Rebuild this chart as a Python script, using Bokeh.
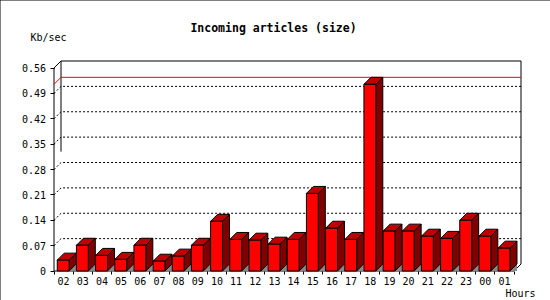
from bokeh.plotting import figure
from bokeh.models import Range1d, FixedTicker, Label, LinearAxis, InlineStyleSheet
from bokeh.embed import file_html
from bokeh.resources import INLINE

# ---- data ----
hours = ["02", "03", "04", "05", "06", "07", "08", "09", "10", "11", "12", "13",
         "14", "15", "16", "17", "18", "19", "20", "21", "22", "23", "00", "01"]
size_kbs = [0.030, 0.071, 0.043, 0.032, 0.071, 0.027, 0.041, 0.071, 0.137, 0.087,
            0.085, 0.074, 0.087, 0.214, 0.118, 0.087, 0.515, 0.110, 0.110, 0.096,
            0.090, 0.140, 0.096, 0.063]
y_ticks = [0, 0.07, 0.14, 0.21, 0.28, 0.35, 0.42, 0.49, 0.56]
y_tick_labels = ["0", "0.07", "0.14", "0.21", "0.28", "0.35", "0.42", "0.49", "0.56"]
title_text = "Incoming articles (size)"
y_label = "Kb/sec"
x_label = "Hours"

n = len(hours)
y_max_axis = y_ticks[-1]
W, H = 550, 300
OX, OY = 53.5, 270.5        # pixel position of the data origin
PX = n / 460.0              # x data units per pixel
PY = y_max_axis / 203.0     # y data units per pixel
DX, DY = 7 * PX, 7 * PY     # 3D depth

FONT = "DejaVu Sans Mono"

p = figure(width=W, height=H, output_backend="svg", toolbar_location=None,
           x_axis_type=None, y_axis_type=None, title_location=None,
           x_range=Range1d(-OX * PX, (W - OX) * PX),
           y_range=Range1d(-(H - OY) * PY, OY * PY),
           min_border=0, min_border_left=0, min_border_right=0,
           min_border_top=0, min_border_bottom=0,
           background_fill_color="white", border_fill_color="white")
p.outline_line_color = None
p.stylesheets = [InlineStyleSheet(css=":host { outline: 1px solid #000; outline-offset: -1px; }")]

# ---- axes (ticks + labels only), pinned at the data origin ----
ya = LinearAxis(fixed_location=0, ticker=FixedTicker(ticks=y_ticks, minor_ticks=[]))
ya.major_label_overrides = {t: l for t, l in zip(y_ticks, y_tick_labels)}
ya.bounds = (0, y_max_axis)
ya.axis_line_color = None
ya.major_tick_out = 4
ya.major_tick_in = 0
ya.major_tick_line_color = "black"
ya.major_label_standoff = 4
ya.major_label_text_font = FONT
ya.major_label_text_font_size = "10px"
ya.major_label_text_color = "black"
p.add_layout(ya, "left")

centers = [i + 0.5 for i in range(n)]
xa = LinearAxis(fixed_location=0,
                ticker=FixedTicker(ticks=centers, minor_ticks=list(range(n + 1))))
xa.major_label_overrides = {c: h for c, h in zip(centers, hours)}
xa.bounds = (0, n)
xa.axis_line_color = None
xa.major_tick_out = 0
xa.major_tick_in = 0
xa.minor_tick_out = 3
xa.minor_tick_in = 0
xa.minor_tick_line_color = "black"
xa.major_label_standoff = 3
xa.major_label_text_font = FONT
xa.major_label_text_font_size = "10px"
xa.major_label_text_color = "black"
p.add_layout(xa, "below")

# ---- dotted back grid lines ----
for t in y_ticks[1:-1]:
    p.line([0, DX, n + DX], [t, t + DY, t + DY], line_color="black", line_width=1,
           line_dash="2 2")

# ---- frame / axis lines ----
top = y_max_axis
p.line([0, 0, DX, n + DX, n + DX, n, 0], [0, top, top + DY, top + DY, DY, 0, 0],
       line_color="black", line_width=1)
p.line([DX, DX], [top + DY, 0.31 + DY], line_color="black", line_width=1)

# ---- max line ----
m = max(size_kbs)
p.line([0, DX, n + DX], [m, m + DY, m + DY], line_color="red", line_width=1)

# ---- 3D bars ----
x0 = [i + 0.17 for i in range(n)]
x1 = [i + 0.79 for i in range(n)]
shadow_xs = [[b, b + DX, b + DX] for b in x1]
shadow_ys = [[0, 0, DY] for _ in x1]
p.patches(shadow_xs, shadow_ys, fill_color="#888888", line_color=None)
side_xs = [[b, b + DX, b + DX, b] for b in x1]
side_ys = [[0, DY, v + DY, v] for v in size_kbs]
p.patches(side_xs, side_ys, fill_color="#800000", line_color="black", line_width=1)
top_xs = [[a, b, b + DX, a + DX] for a, b in zip(x0, x1)]
top_ys = [[v, v, v + DY, v + DY] for v in size_kbs]
p.patches(top_xs, top_ys, fill_color="#C00000", line_color="black", line_width=1)
p.quad(left=x0, right=x1, bottom=0, top=size_kbs, fill_color="#FF0000",
       line_color="black", line_width=1)

# ---- texts (screen units: from left / bottom of the canvas-sized frame) ----
p.add_layout(Label(x=273, y=H - 27, x_units="screen", y_units="screen", text=title_text,
                   text_font=FONT, text_font_style="bold", text_font_size="11.5px",
                   text_align="center", text_baseline="middle", text_color="black"))
p.add_layout(Label(x=30, y=H - 37, x_units="screen", y_units="screen", text=y_label,
                   text_font=FONT, text_font_size="10px", text_align="left",
                   text_baseline="middle", text_color="black"))
p.add_layout(Label(x=505, y=H - 293, x_units="screen", y_units="screen", text=x_label,
                   text_font=FONT, text_font_size="10px", text_align="left",
                   text_baseline="middle", text_color="black"))

open("out.html", "w").write(file_html(p, INLINE))
